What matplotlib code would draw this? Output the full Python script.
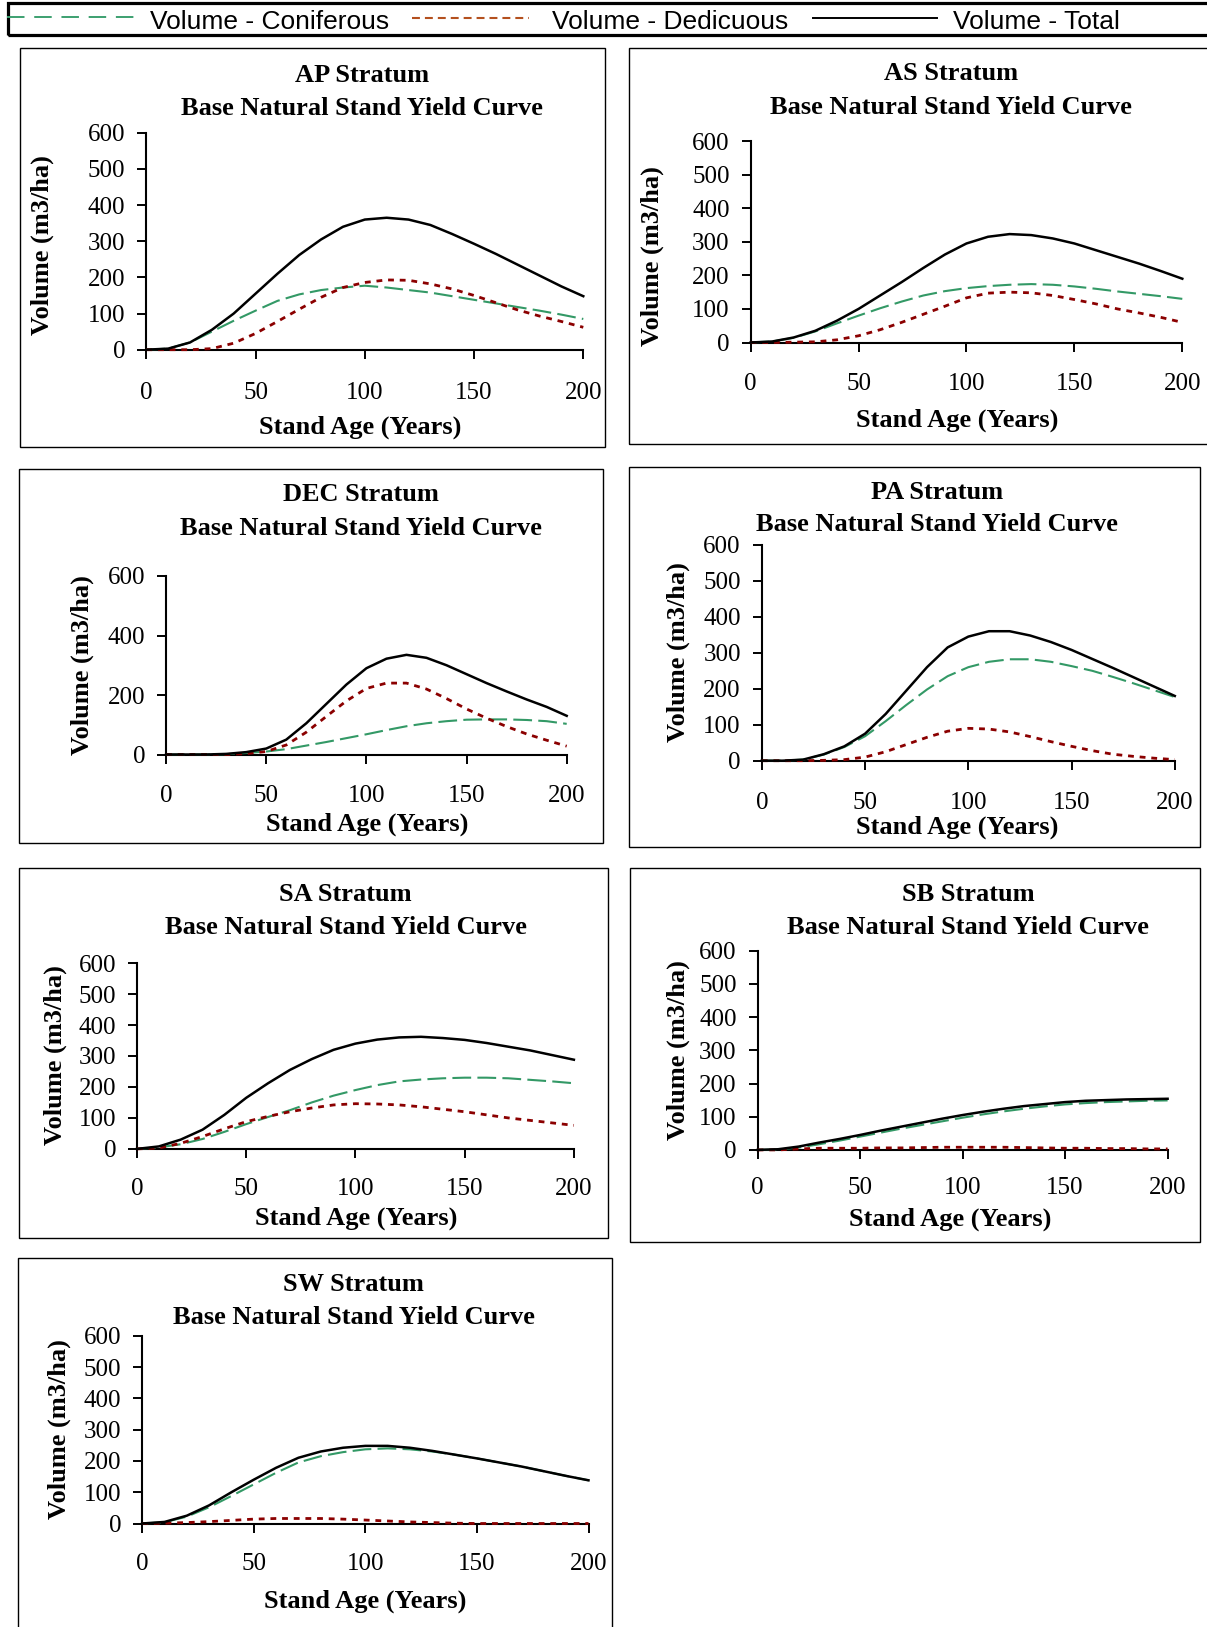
import matplotlib
matplotlib.use("Agg")
import matplotlib.pyplot as plt
import matplotlib.font_manager as fm
from matplotlib.lines import Line2D
from matplotlib.patches import Rectangle

# ---------------- data ----------------
ages = [0, 10, 20, 30, 40, 50, 60, 70, 80, 90, 100, 110, 120, 130, 140, 150, 160, 170, 180, 190, 200]

strata = ["AP", "AS", "DEC", "PA", "SA", "SB", "SW"]

ap_con = [0, 3, 20, 50, 80, 108, 135, 153, 165, 172, 177, 172, 165, 158, 148, 138, 128, 118, 108, 97, 85]
ap_dec = [0, 0, 0, 3, 18, 45, 78, 112, 145, 172, 186, 193, 192, 182, 168, 150, 130, 110, 93, 78, 62]
ap_tot = [0, 3, 20, 55, 100, 155, 210, 262, 305, 340, 360, 365, 360, 345, 320, 293, 265, 235, 205, 175, 148]

as_con = [0, 3, 14, 33, 57, 80, 102, 122, 140, 153, 162, 168, 172, 174, 172, 167, 160, 152, 145, 138, 130]
as_dec = [0, 0, 1, 2, 8, 20, 38, 60, 84, 108, 133, 147, 150, 148, 140, 128, 115, 100, 88, 75, 60]
as_tot = [0, 3, 15, 35, 65, 100, 140, 180, 222, 262, 295, 315, 323, 320, 310, 295, 275, 255, 235, 213, 190]

dec_con = [0, 0, 0, 1, 5, 10, 18, 30, 42, 55, 68, 82, 95, 105, 112, 117, 118, 118, 116, 112, 103]
dec_dec = [0, 0, 0, 0, 3, 10, 32, 75, 128, 180, 222, 240, 240, 220, 188, 153, 122, 94, 69, 48, 28]
dec_tot = [0, 0, 0, 2, 8, 20, 50, 105, 170, 235, 290, 322, 335, 325, 300, 270, 240, 212, 185, 160, 130]

pa_con = [0, 0, 3, 17, 38, 68, 110, 155, 198, 235, 260, 275, 282, 282, 275, 263, 250, 233, 215, 196, 177]
pa_dec = [0, 0, 0, 1, 3, 10, 25, 45, 65, 82, 90, 88, 80, 67, 53, 40, 28, 18, 12, 7, 3]
pa_tot = [0, 0, 3, 18, 40, 75, 130, 195, 260, 315, 345, 360, 360, 348, 330, 308, 283, 258, 232, 206, 180]

sa_con = [0, 5, 15, 32, 55, 80, 103, 125, 150, 172, 190, 206, 218, 224, 228, 230, 230, 228, 223, 218, 212]
sa_dec = [0, 3, 18, 40, 65, 88, 105, 120, 132, 142, 146, 145, 142, 136, 128, 120, 110, 100, 92, 84, 76]
sa_tot = [0, 8, 30, 62, 110, 165, 212, 255, 290, 320, 340, 353, 360, 362, 358, 352, 342, 330, 318, 303, 288]

sb_con = [0, 1, 7, 17, 28, 40, 52, 64, 75, 86, 97, 107, 116, 124, 131, 137, 141, 144, 146, 148, 149]
sb_dec = [0, 0, 3, 5, 5, 5, 6, 6, 7, 8, 8, 8, 8, 7, 6, 5, 5, 4, 4, 3, 3]
sb_tot = [0, 2, 10, 22, 33, 45, 58, 70, 82, 94, 105, 115, 124, 132, 138, 144, 148, 150, 152, 153, 154]

sw_con = [0, 4, 22, 52, 88, 125, 162, 195, 215, 228, 237, 240, 237, 230, 220, 208, 195, 182, 167, 152, 138]
sw_dec = [0, 1, 3, 6, 10, 14, 16, 16, 16, 14, 11, 8, 5, 3, 1, 0, 0, 0, 0, 0, 0]
sw_tot = [0, 5, 25, 58, 100, 140, 178, 210, 230, 242, 248, 248, 242, 232, 220, 208, 195, 182, 167, 152, 138]

x_ticks = [0, 50, 100, 150, 200]
y_ticks_default = [0, 100, 200, 300, 400, 500, 600]
y_ticks_dec = [0, 200, 400, 600]

legend_labels = ["Volume - Coniferous", "Volume - Dedicuous", "Volume - Total"]
title_line2 = "Base Natural Stand Yield Curve"
x_label = "Stand Age (Years)"
y_label = "Volume (m3/ha)"

series = {
    "AP": (ap_con, ap_dec, ap_tot),
    "AS": (as_con, as_dec, as_tot),
    "DEC": (dec_con, dec_dec, dec_tot),
    "PA": (pa_con, pa_dec, pa_tot),
    "SA": (sa_con, sa_dec, sa_tot),
    "SB": (sb_con, sb_dec, sb_tot),
    "SW": (sw_con, sw_dec, sw_tot),
}

# ---------------- layout (pixels) ----------------
W, H = 1207, 1627
# axes: x0, x1, ytop, ybot ; box: l, t, r, b ; title cx, line1 y, line2 y ; xlabel cx, y ; ylabel x, y ; xtick label distance
layout = {
    "AP":  dict(ax=(146.3, 583.3, 132.8, 349.7), box=(19.5, 48, 605, 447), tx=362.2, t1=73, t2=106, xl=(360, 425), yl=(39.5, 245), d=41.0),
    "AS":  dict(ax=(750.6, 1182.3, 141.1, 342.5), box=(628.7, 48, 1215, 444), tx=950.6, t1=71.7, t2=104.8, xl=(956.7, 418.3), yl=(650, 256), d=39.6),
    "DEC": dict(ax=(166.1, 566.7, 576.0, 754.5), box=(18.8, 469, 602.7, 843.3), tx=361.0, t1=492.6, t2=526.4, xl=(367.2, 822), yl=(79.5, 665), d=39.0),
    "PA":  dict(ax=(761.8, 1174.8, 544.9, 760.7), box=(628.7, 466.7, 1199.6, 846.7), tx=937.3, t1=490, t2=522.5, xl=(957, 825), yl=(675.3, 652), d=40.0),
    "SA":  dict(ax=(137.0, 573.9, 963.1, 1148.9), box=(18.8, 867.7, 608.2, 1237.7), tx=345.8, t1=892, t2=925.3, xl=(356.2, 1215.6), yl=(53, 1055), d=38.0),
    "SB":  dict(ax=(757.6, 1167.6, 950.7, 1149.9), box=(629.5, 867.7, 1200.4, 1241.7), tx=968.3, t1=892, t2=925.3, xl=(950.6, 1217), yl=(675.3, 1050), d=35.7),
    "SW":  dict(ax=(142.2, 588.5, 1335.7, 1523.5), box=(18, 1257.7, 612.2, 1640), tx=353.5, t1=1282, t2=1315, xl=(365.5, 1598.8), yl=(57, 1429.5), d=38.3),
}

SERIF = "Liberation Serif"
avail = {f.name for f in fm.fontManager.ttflist}
if "Liberation Sans Narrow" in avail:
    LEG_FONT, LEG_SIZE = "Liberation Sans Narrow", 22.9
else:
    LEG_FONT, LEG_SIZE = "Liberation Sans", 19

GREEN = "#339966"
RED = "#8B0000"
LEG_GREEN = "#3CA070"
LEG_RED = "#B4501E"

TITLE_SIZE = 19
TICK_SIZE = 18
EM = TITLE_SIZE * 100 / 72.0


def fx(x):
    return x / W


def fy(y):
    return 1 - y / H


fig = plt.figure(figsize=(W / 100, H / 100), dpi=100)
fig.patch.set_facecolor("white")

# legend box
fig.add_artist(Rectangle((fx(7.5), fy(34.7)), fx(1230) - fx(7.5), fy(3) - fy(34.7),
                         transform=fig.transFigure, fill=False, edgecolor="black", linewidth=2.3))
fig.add_artist(Line2D([fx(7), fx(143)], [fy(16.5), fy(16.5)], transform=fig.transFigure,
                      color=LEG_GREEN, linewidth=1.4, dashes=(9.0, 5.0)))
fig.add_artist(Line2D([fx(411.7), fx(529)], [fy(18.3), fy(18.3)], transform=fig.transFigure,
                      color=LEG_RED, linewidth=1.5, dashes=(3.8, 2.4)))
fig.add_artist(Line2D([fx(813), fx(937)], [fy(18.3), fy(18.3)], transform=fig.transFigure,
                      color="black", linewidth=1.4))
for lx, lab in zip([150, 551.7, 953], legend_labels):
    fig.text(fx(lx), fy(29), lab, ha="left", va="baseline", fontsize=LEG_SIZE, family=LEG_FONT)

for name in strata:
    L = layout[name]
    con, dec, tot = series[name]
    x0, x1, yt, yb = L["ax"]
    bl, bt, br, bb = L["box"]
    fig.add_artist(Rectangle((fx(bl), fy(bb)), fx(br) - fx(bl), fy(bt) - fy(bb),
                             transform=fig.transFigure, fill=False, edgecolor="black", linewidth=1.0))
    ax = fig.add_axes([fx(x0), fy(yb), fx(x1) - fx(x0), fy(yt) - fy(yb)])
    ax.patch.set_alpha(0)
    ax.plot(ages, con, color=GREEN, linewidth=1.5, dashes=(9.0, 3.0), clip_on=False, zorder=3)
    ax.plot(ages, dec, color=RED, linewidth=2.0, dashes=(2.1, 2.1), clip_on=False, zorder=4)
    ax.plot(ages, tot, color="black", linewidth=1.8, clip_on=False, zorder=5)
    ax.set_xlim(0, 200)
    ax.set_ylim(0, 600)
    ax.set_xticks(x_ticks)
    ax.set_yticks(y_ticks_dec if name == "DEC" else y_ticks_default)
    for s in ["top", "right"]:
        ax.spines[s].set_visible(False)
    for s in ["left", "bottom"]:
        ax.spines[s].set_linewidth(1.5)
    xpad = (L["d"] - 9 - 8.7) * 0.72
    ax.tick_params(axis="x", direction="out", length=6.5, width=1.4, pad=xpad,
                   labelsize=TICK_SIZE)
    ax.tick_params(axis="y", direction="out", length=6.5, width=1.4, pad=8.6,
                   labelsize=TICK_SIZE)
    for lab in ax.get_xticklabels() + ax.get_yticklabels():
        lab.set_family(SERIF)
    # titles and labels
    fig.text(fx(L["tx"]), fy(L["t1"] + 0.33 * EM), name + " Stratum", ha="center", va="baseline",
             fontsize=TITLE_SIZE, fontweight="bold", family=SERIF)
    fig.text(fx(L["tx"]), fy(L["t2"] + 0.33 * EM), title_line2, ha="center", va="baseline",
             fontsize=TITLE_SIZE, fontweight="bold", family=SERIF)
    fig.text(fx(L["xl"][0]), fy(L["xl"][1] + 0.33 * EM), x_label, ha="center", va="baseline",
             fontsize=TITLE_SIZE, fontweight="bold", family=SERIF)
    fig.text(fx(L["yl"][0] + 2.6), fy(L["yl"][1]), y_label, ha="center", va="center", rotation=90,
             fontsize=TITLE_SIZE, fontweight="bold", family=SERIF)

fig.savefig("out.png", dpi=100, facecolor="white")
